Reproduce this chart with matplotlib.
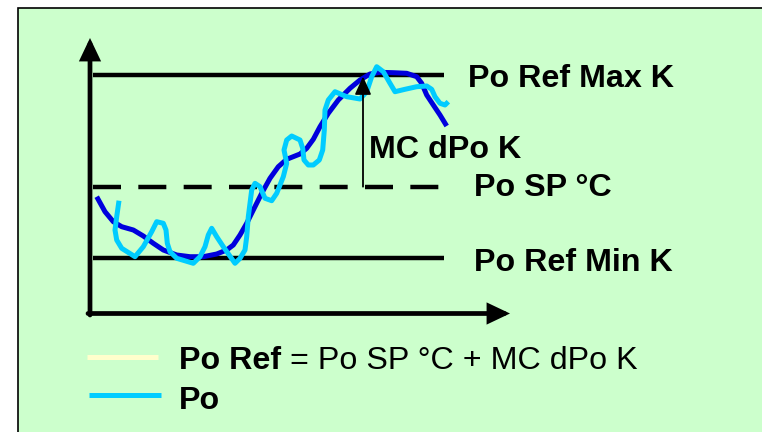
import matplotlib
matplotlib.use("Agg")
import matplotlib.pyplot as plt
from matplotlib.patches import Rectangle

# ---- data (schematic coordinates, y grows downward) ----
po_ref_x = [96.7, 105, 113.3, 121.7, 133.3, 143.3, 153.3, 163.3, 176.7, 190, 203.3, 216.7,
            226.7, 233.3, 240, 246.7, 253.3, 261.7, 270, 278.3, 286.7, 300, 306.7, 313.3,
            320, 328.3, 338.3, 350, 360, 370, 380, 393.3, 406.7, 416.7, 421.7, 426.7,
            433.3, 440, 446.7]
po_ref_y = [196.7, 211.7, 221.7, 226.7, 230, 236, 243.3, 250, 255, 256.7, 256.7, 254,
            250, 245, 235, 223.3, 210, 193.3, 178.3, 166.7, 159.3, 154, 148.3, 139.3,
            126.7, 113.3, 100, 88.3, 80, 74, 72.3, 72.7, 73.3, 76.7, 83.3, 95,
            105, 115, 126]

po_x = [119, 116.7, 115, 116.7, 121.7, 135, 143.3, 151.7, 156.7, 163.3, 166, 167.3, 170,
        176.7, 193.3, 200, 205, 208.3, 211.7, 216.7, 223.3, 235, 240, 245, 246.7, 248.3,
        251.7, 255, 260, 265, 271.7, 276.7, 283.3, 286.7, 284, 286.7, 291.7, 300, 302.7,
        304, 308.3, 313.3, 319.3, 322.7, 324.3, 325, 328.3, 335, 346.7, 360, 366.7, 371.7,
        376.7, 383.3, 390, 395, 405, 416.7, 426.7, 431.7, 435, 440, 445, 448.3]
po_y = [200.7, 216.7, 230, 240, 248.3, 256.7, 246.7, 231.7, 221.7, 223.3, 230, 243.3, 251.7,
        258.3, 263.3, 256.7, 246.7, 235, 228.3, 236.7, 246.7, 263.3, 258.3, 250, 236.7, 216.7,
        190, 183.3, 186.7, 198.3, 200.7, 193.3, 176.7, 163.3, 150, 140, 136, 140, 148.3,
        160, 165, 165, 160, 150, 130, 110, 100, 91.7, 96.7, 99, 91.7, 76.7,
        66.7, 71.7, 83.3, 91.7, 89.3, 86.7, 86, 89.3, 96.7, 103.3, 105, 101.7]

ref_max_y = 74.5
sp_y = 186.7
ref_min_y = 258
level_x = [93, 444]

labels = {"max": "Po Ref Max K", "sp": "Po SP \u00b0C", "min": "Po Ref Min K", "mc": "MC dPo K"}
legend_bold = ["Po Ref", "Po"]
legend_rest = " = Po SP \u00b0C + MC dPo K"

BG = "#CCFFCC"
DARK = "#0000DD"
CYAN = "#00CCFF"
PALE = "#FFFFCC"
FONT = "Liberation Sans"
FS = 23.2

fig = plt.figure(figsize=(7.62, 4.32), dpi=100)
fig.patch.set_facecolor("white")
ax = fig.add_axes([0, 0, 1, 1])
ax.set_xlim(0, 762)
ax.set_ylim(432, 0)
ax.axis("off")

ax.add_patch(Rectangle((18, 8), 800, 500, facecolor=BG, edgecolor="black", lw=1.2, zorder=0))

# axes arrows
arr = dict(arrowstyle="-|>,head_length=0.8,head_width=0.38", lw=3.4, color="black",
           mutation_scale=14, shrinkA=0, shrinkB=0, joinstyle="miter")
ax.annotate("", xy=(90, 38), xytext=(90, 315), arrowprops=arr, zorder=2)
ax.annotate("", xy=(510, 313.5), xytext=(88, 313.5), arrowprops=arr, zorder=2)

# level lines
ax.plot(level_x, [ref_max_y, ref_max_y], color="black", lw=3.2, solid_capstyle="butt", zorder=1)
ax.plot(level_x, [ref_min_y, ref_min_y], color="black", lw=3.2, solid_capstyle="butt", zorder=1)
ax.plot(level_x, [sp_y, sp_y], color="black", lw=3.2, dashes=(6.3, 3.9),
        dash_capstyle="butt", zorder=1)

# curves
ax.plot(po_ref_x, po_ref_y, color=DARK, lw=3.6, solid_joinstyle="round",
        solid_capstyle="butt", zorder=3)
ax.plot(po_x, po_y, color=CYAN, lw=3.6, solid_joinstyle="round",
        solid_capstyle="butt", zorder=4)

# MC dPo arrow
ax.annotate("", xy=(363, 76.5), xytext=(363, sp_y),
            arrowprops=dict(arrowstyle="-|>,head_length=1.1,head_width=0.5", lw=1.3,
                            color="black", mutation_scale=10, shrinkA=0, shrinkB=0),
            zorder=5)

tk = dict(fontfamily=FONT, fontsize=FS, fontweight="bold", va="baseline", ha="left", zorder=6)
ax.text(468, 87, labels["max"], **tk)
ax.text(369.4, 158.3, labels["mc"], **tk)
ax.text(474.3, 196, labels["sp"], **tk)
ax.text(474.3, 271, labels["min"], **tk)

# legend
ax.plot([87.3, 158.3], [357.3, 357.3], color=PALE, lw=3.6, solid_capstyle="butt")
ax.plot([89.3, 160.7], [394.7, 394.7], color=CYAN, lw=3.6, solid_capstyle="butt")
t1 = ax.text(179.3, 369.3, legend_bold[0], **tk)
ax.annotate(legend_rest, xy=(1, 0), xycoords=t1, va="bottom", ha="left",
            fontfamily=FONT, fontsize=FS, fontweight="normal")
ax.text(178.6, 409, legend_bold[1], **tk)

fig.savefig("out.png", dpi=100, facecolor=fig.get_facecolor())
